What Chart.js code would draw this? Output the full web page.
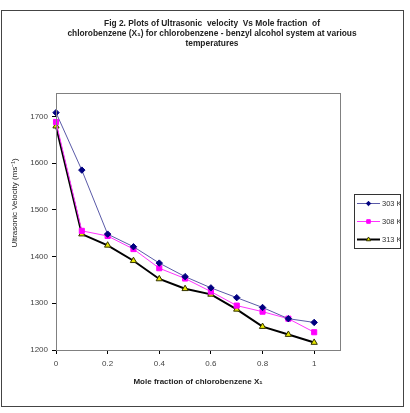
<!DOCTYPE html>
<html>
<head>
<meta charset="utf-8">
<script src="https://cdn.jsdelivr.net/npm/chart.js@4/dist/chart.umd.min.js"></script>
<style>
  html, body { margin: 0; padding: 0; background: #fff; }
  #wrap { width: 410px; height: 413px; position: relative; }
</style>
</head>
<body>
<div id="wrap"><canvas id="chart" width="410" height="413"></canvas></div>
<script>
'use strict';

var moleFraction = [0, 0.1, 0.2, 0.3, 0.4, 0.5, 0.6, 0.7, 0.8, 0.9, 1];
var v303 = [1708, 1585, 1448, 1421, 1386, 1357, 1333, 1312, 1291, 1267, 1259];
var v308 = [1688, 1455, 1444, 1416, 1375, 1353, 1325, 1295, 1282, 1267, 1238];
var v313 = [1679, 1448, 1424, 1391, 1352, 1331, 1319, 1287, 1250, 1233, 1216];
var seriesNames = ['303 K', '308 K', '313 K'];
var xTicks = [0, 0.2, 0.4, 0.6, 0.8, 1];
var yTicks = [1200, 1300, 1400, 1500, 1600, 1700];

var titleLines = [
    'Fig 2. Plots of Ultrasonic  velocity  Vs Mole fraction  of',
    'chlorobenzene (X\u2081) for chlorobenzene - benzyl alcohol system at various',
    'temperatures'
];
var xTitle = 'Mole fraction of chlorobenzene X\u2081';
var yTitle = 'Ultrasonic Velocity (ms\u207B\u00B9)';

function points(values) {
    return values.map(function (v, i) { return { x: moleFraction[i], y: v }; });
}

// frame, titles and boxed legend like the Excel original
var decor = {
    id: 'decor',
    beforeDraw: function (chart) {
        var c = chart.ctx;
        c.save();
        c.fillStyle = '#fff';
        c.fillRect(0, 0, chart.width, chart.height);
        c.restore();
    },
    afterDraw: function (chart) {
        var c = chart.ctx;
        var a = chart.chartArea;
        c.save();

        // outer border
        c.strokeStyle = '#444';
        c.lineWidth = 1;
        c.strokeRect(1.5, 10.5, 402, 396);

        // plot frame
        c.strokeStyle = '#808080';
        c.strokeRect(Math.round(a.left) + 0.5, Math.round(a.top) + 0.5,
            Math.round(a.right - a.left), Math.round(a.bottom - a.top));

        // chart title
        c.fillStyle = '#222';
        c.font = 'bold 8.4px "Liberation Sans", Arial, sans-serif';
        c.textAlign = 'center';
        c.textBaseline = 'middle';
        titleLines.forEach(function (t, i) {
            c.fillText(t, 212, 24 + i * 10);
        });

        // axis titles
        c.font = 'bold 8px "Liberation Sans", Arial, sans-serif';
        c.fillText(xTitle, (a.left + a.right) / 2, 382);
        c.save();
        c.font = '8px "Liberation Sans", Arial, sans-serif';
        c.translate(15, 203);
        c.rotate(-Math.PI / 2);
        c.fillText(yTitle, 0, 0);
        c.restore();

        // legend
        var lx = 354, ly = 194, lw = 46, lh = 54;
        c.strokeStyle = '#333';
        c.strokeRect(lx + 0.5, ly + 0.5, lw, lh);
        c.beginPath();
        c.rect(lx, ly, lw + 1, lh);
        c.clip();
        c.font = '7.5px "Liberation Sans", Arial, sans-serif';
        c.textAlign = 'left';
        chart.data.datasets.forEach(function (ds, i) {
            var y = ly + 9.5 + i * 18;
            c.strokeStyle = ds.borderColor;
            c.lineWidth = ds.borderWidth;
            c.beginPath();
            c.moveTo(lx + 3, y);
            c.lineTo(lx + 26, y);
            c.stroke();
            c.fillStyle = ds.pointBackgroundColor;
            c.strokeStyle = ds.pointBorderColor;
            c.lineWidth = 1;
            Chart.helpers.drawPoint(c, {
                pointStyle: ds.pointStyle,
                radius: ds.pointRadius * 0.7,
                borderWidth: 1,
                rotation: 0
            }, lx + 14.5, y);
            c.fillStyle = '#333';
            c.fillText(ds.label, lx + 28, y + 0.5);
        });
        c.restore();
    }
};

var tickFont = { family: '"Liberation Sans", Arial, sans-serif', size: 8 };

var ctx = document.getElementById('chart').getContext('2d');
var myChart = new Chart(ctx, {
    type: 'line',
    data: {
        datasets: [{
            label: seriesNames[0],
            data: points(v303),
            borderColor: '#5a5aa8',
            borderWidth: 1,
            pointStyle: 'rectRot',
            pointRadius: 3.2,
            pointBackgroundColor: '#000080',
            pointBorderColor: '#000080',
            pointBorderWidth: 1,
            clip: false
        }, {
            label: seriesNames[1],
            data: points(v308),
            borderColor: '#ff33ff',
            borderWidth: 1,
            pointStyle: 'rect',
            pointRadius: 3.6,
            pointBackgroundColor: '#ff00ff',
            pointBorderColor: '#ff00ff',
            pointBorderWidth: 1,
            clip: false
        }, {
            label: seriesNames[2],
            data: points(v313),
            borderColor: '#000000',
            borderWidth: 2,
            pointStyle: 'triangle',
            pointRadius: 3.6,
            pointBackgroundColor: '#e8e800',
            pointBorderColor: '#333300',
            pointBorderWidth: 1,
            clip: false
        }]
    },
    options: {
        responsive: false,
        animation: false,
        layout: { padding: { top: 93, right: 70, bottom: 0, left: 0 } },
        plugins: {
            legend: { display: false },
            tooltip: { enabled: false },
            title: { display: false }
        },
        scales: {
            x: {
                type: 'linear',
                min: 0,
                max: 1.1,
                afterBuildTicks: function (scale) {
                    scale.ticks = xTicks.map(function (v) { return { value: v }; });
                },
                afterFit: function (scale) { scale.height = 63; },
                grid: {
                    drawOnChartArea: false,
                    drawTicks: true,
                    tickLength: 4,
                    tickColor: '#000'
                },
                border: { color: '#000', width: 1 },
                ticks: {
                    padding: 5,
                    maxRotation: 0,
                    color: '#444',
                    font: tickFont,
                    callback: function (v) { return String(Math.round(v * 10) / 10); }
                }
            },
            y: {
                type: 'linear',
                min: 1200,
                max: 1750,
                afterBuildTicks: function (scale) {
                    scale.ticks = yTicks.map(function (v) { return { value: v }; });
                },
                afterFit: function (scale) { scale.width = 56; },
                grid: {
                    drawOnChartArea: false,
                    drawTicks: true,
                    tickLength: 4,
                    tickColor: '#000'
                },
                border: { color: '#000', width: 1 },
                ticks: {
                    padding: 4,
                    color: '#444',
                    font: tickFont,
                    callback: function (v) { return String(v); }
                }
            }
        }
    },
    plugins: [decor]
});
</script>
</body>
</html>
